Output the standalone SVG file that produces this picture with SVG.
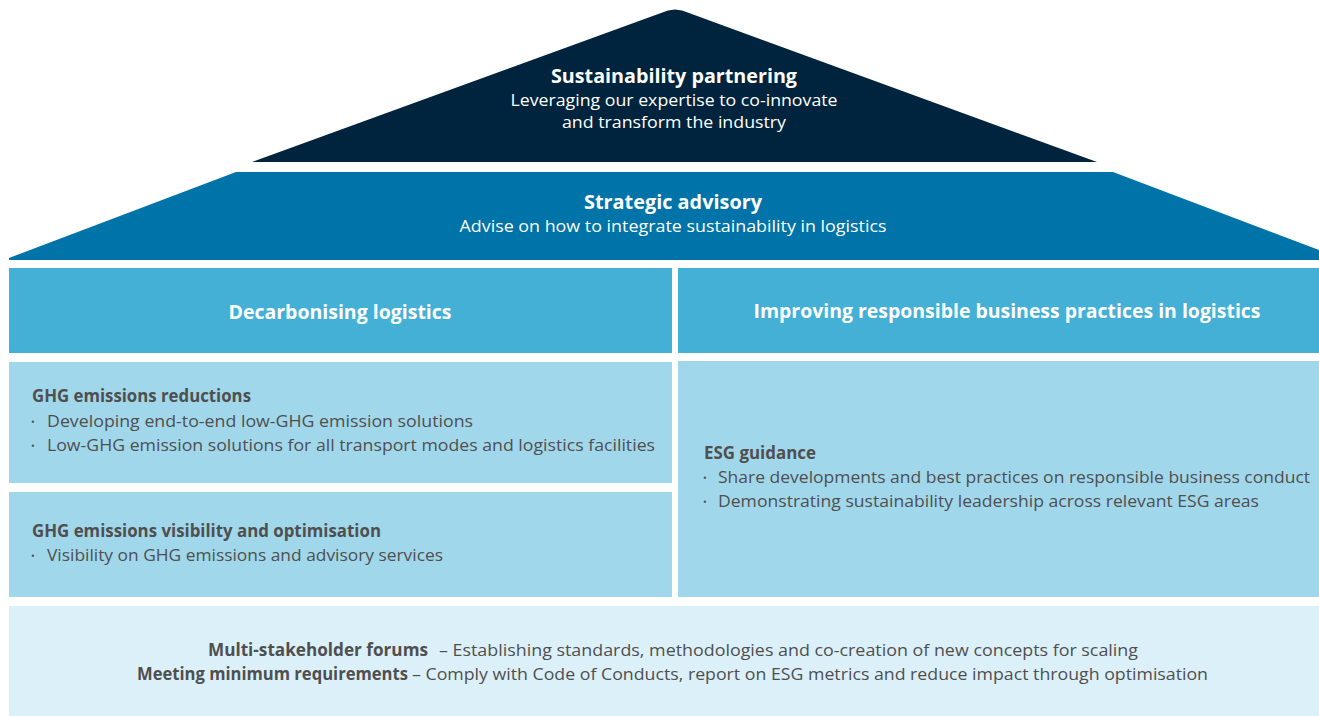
<svg xmlns="http://www.w3.org/2000/svg" width="1319" height="716" viewBox="0 0 1319 716">
<style>
  .t { font-family: "Open Sans", "Noto Sans", "DejaVu Sans", sans-serif; }
  .w { fill: #ffffff; }
  .g { fill: #4f4f4f; }
  .b { font-weight: bold; }
  .s17 { font-size: 17px; }
  .s19 { font-size: 19px; }
  .s20 { font-size: 20px; }
  .bul { font-size: 10px; }
  .hdr { fill: #44b0d6; }
  .cnt { fill: #a1d7eb; }
</style>
<rect x="0" y="0" width="1319" height="716" fill="#ffffff"/>
<g id="partnering">
  <path d="M252,162 L661,13 Q675,6 689,13 L1097,162 Z" fill="#00243e"/>
  <text class="t w b s19" x="674" y="83" text-anchor="middle" textLength="246" lengthAdjust="spacingAndGlyphs">Sustainability partnering</text>
  <text class="t w s17" x="674" y="106" text-anchor="middle" textLength="327" lengthAdjust="spacingAndGlyphs">Leveraging our expertise to co-innovate</text>
  <text class="t w s17" x="674" y="128" text-anchor="middle" textLength="224" lengthAdjust="spacingAndGlyphs">and transform the industry</text>
</g>
<g id="advisory">
  <path d="M236,172 L1113,172 L1319,250 L1319,260 L9,260 L9,258 Z" fill="#0073a8"/>
  <text class="t w b s19" x="673" y="209" text-anchor="middle" textLength="178" lengthAdjust="spacingAndGlyphs">Strategic advisory</text>
  <text class="t w s17" x="673" y="232" text-anchor="middle" textLength="427" lengthAdjust="spacingAndGlyphs">Advise on how to integrate sustainability in logistics</text>
</g>
<g id="decarbonising-header">
  <rect class="hdr" x="9" y="268" width="663" height="85"/>
  <text class="t w b s20" x="340" y="319" text-anchor="middle" textLength="223" lengthAdjust="spacingAndGlyphs">Decarbonising logistics</text>
</g>
<g id="responsible-header">
  <rect class="hdr" x="678" y="268" width="641" height="85"/>
  <text class="t w b s20" x="1007" y="318" text-anchor="middle" textLength="507" lengthAdjust="spacingAndGlyphs">Improving responsible business practices in logistics</text>
</g>
<g id="ghg-reductions">
  <rect class="cnt" x="9" y="362" width="663" height="121"/>
  <text class="t g b s17" x="32" y="402" textLength="219" lengthAdjust="spacingAndGlyphs">GHG emissions reductions</text>
  <text class="t g bul" x="31" y="426">•</text>
  <text class="t g s17" x="47" y="427" textLength="426" lengthAdjust="spacingAndGlyphs">Developing end-to-end low-GHG emission solutions</text>
  <text class="t g bul" x="31" y="450">•</text>
  <text class="t g s17" x="47" y="451" textLength="608" lengthAdjust="spacingAndGlyphs">Low-GHG emission solutions for all transport modes and logistics facilities</text>
</g>
<g id="ghg-visibility">
  <rect class="cnt" x="9" y="492" width="663" height="105"/>
  <text class="t g b s17" x="32" y="537" textLength="349" lengthAdjust="spacingAndGlyphs">GHG emissions visibility and optimisation</text>
  <text class="t g bul" x="31" y="560">•</text>
  <text class="t g s17" x="47" y="561" textLength="396" lengthAdjust="spacingAndGlyphs">Visibility on GHG emissions and advisory services</text>
</g>
<g id="esg-guidance">
  <rect class="cnt" x="678" y="361" width="641" height="236"/>
  <text class="t g b s17" x="704" y="459" textLength="112" lengthAdjust="spacingAndGlyphs">ESG guidance</text>
  <text class="t g bul" x="703" y="482">•</text>
  <text class="t g s17" x="718" y="483" textLength="592" lengthAdjust="spacingAndGlyphs">Share developments and best practices on responsible business conduct</text>
  <text class="t g bul" x="703" y="506">•</text>
  <text class="t g s17" x="718" y="507" textLength="541" lengthAdjust="spacingAndGlyphs">Demonstrating sustainability leadership across relevant ESG areas</text>
</g>
<g id="foundation">
  <rect x="9" y="606" width="1310" height="110" fill="#dcf0fa"/>
  <text class="t g b s17" x="208" y="656" textLength="220" lengthAdjust="spacingAndGlyphs">Multi-stakeholder forums</text>
  <text class="t g s17" x="439" y="656" textLength="699" lengthAdjust="spacingAndGlyphs">– Establishing standards, methodologies and co-creation of new concepts for scaling</text>
  <text class="t g b s17" x="137" y="680" textLength="271" lengthAdjust="spacingAndGlyphs">Meeting minimum requirements</text>
  <text class="t g s17" x="412" y="680" textLength="796" lengthAdjust="spacingAndGlyphs">– Comply with Code of Conducts, report on ESG metrics and reduce impact through optimisation</text>
</g>
<g id="connectors"></g>
</svg>
